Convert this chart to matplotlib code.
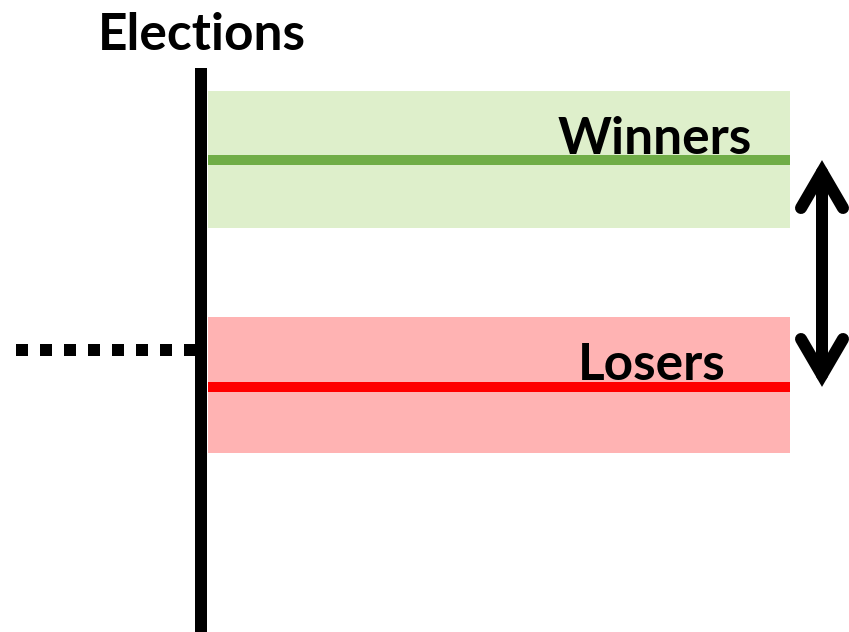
import matplotlib
matplotlib.use("Agg")
import matplotlib.pyplot as plt

# ---- data (pixel-like canvas units, y grows downward) ----
election_x = 201
axis_top = 68
series_x = [208, 790]
groups = ["Winners", "Losers"]
levels = [160, 387]
band_lo = [91, 317]
band_hi = [228, 453]
line_colors = ["#70AD47", "#FF0000"]
band_colors = ["#DEEFCB", "#FFB3B3"]
label_pos = [(655, 139), (652, 366)]
threshold_y = 350
threshold_x = [16, 200]
arrow_x = 822
arrow_tips = [160, 387]

W, H = 849, 632
fig = plt.figure(figsize=(W / 100, H / 100), dpi=100)
ax = fig.add_axes([0, 0, 1, 1])
ax.set_xlim(0, W)
ax.set_ylim(H, 0)
ax.axis("off")

px = 72 / 100  # points per pixel
font = "Lato"

for g, lv, lo, hi, lc, bc, lp in zip(groups, levels, band_lo, band_hi, line_colors, band_colors, label_pos):
    ax.fill_between(series_x, [lo, lo], [hi, hi], color=bc, lw=0, zorder=1)
    ax.plot(series_x, [lv, lv], color=lc, lw=10 * px, solid_capstyle="butt", zorder=2)
    ax.text(lp[0], lp[1], g, ha="center", va="center", fontsize=37, fontweight="bold",
            family=font, color="black", zorder=3)

# threshold dotted line
ax.plot(threshold_x, [threshold_y, threshold_y], color="black", lw=12 * px,
        linestyle=(0, (1, 1)), dash_capstyle="butt", zorder=2)

# election axis
ax.plot([election_x, election_x], [axis_top, H], color="black", lw=12 * px,
        solid_capstyle="butt", zorder=4)

ax.text(202, 35, "Elections", ha="center", va="center", fontsize=37,
        fontweight="bold", family=font, color="black")

# double arrow
t0 = arrow_tips[0] + 12
t1 = arrow_tips[1] - 12
ax.plot([arrow_x, arrow_x], [t0, t1], color="black", lw=12 * px, solid_capstyle="round", zorder=5)
for tip, sgn in [(t0, 1), (t1, -1)]:
    ax.plot([arrow_x - 21, arrow_x, arrow_x + 21], [tip + sgn * 36, tip, tip + sgn * 36],
            color="black", lw=12 * px, solid_capstyle="round", solid_joinstyle="miter", zorder=5)

fig.savefig("out.png", dpi=100)
